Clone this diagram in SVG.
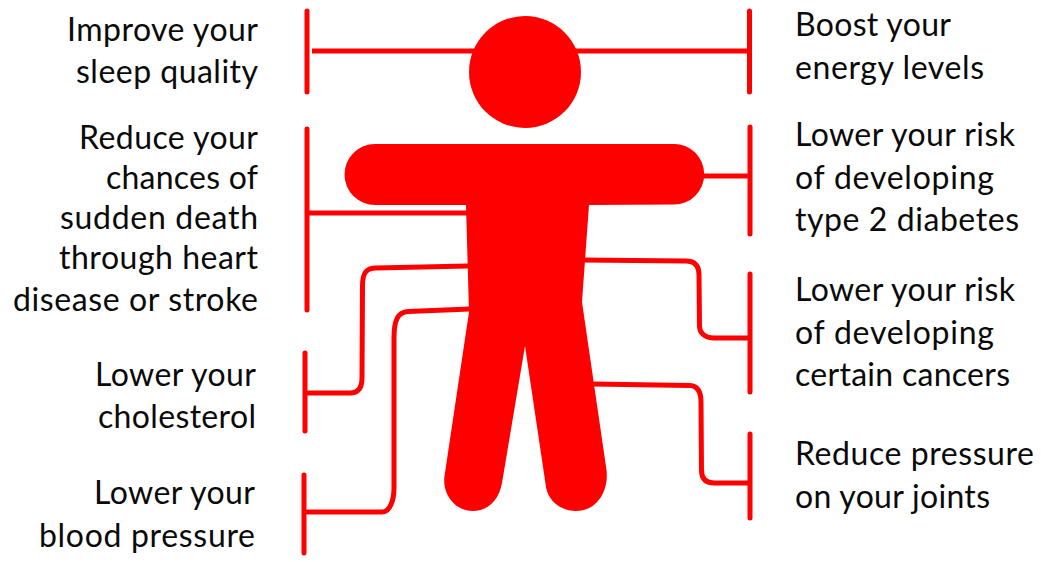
<svg xmlns="http://www.w3.org/2000/svg" width="1041" height="562" viewBox="0 0 1041 562">
<style>
text{font-family:"Lato","Open Sans",sans-serif;font-size:32px;fill:#0a0a0a}
.l{text-anchor:end}
.c{fill:none;stroke:#f00;stroke-width:5px;stroke-linecap:round;stroke-linejoin:round}
.s{fill:none;stroke:#f00;stroke-width:5px;stroke-linecap:butt}
.b{fill:#f00}
</style>
<rect width="1041" height="562" fill="#fff"/>
<g id="connectors">
<path class="c" d="M307 11V92M749.500 11V92"/>
<path class="s" d="M312 51H475M575 51H749"/>
<path class="c" d="M307 129V310"/>
<path class="s" d="M309 213H468"/>
<path class="s" d="M700 176H749"/>
<path class="c" d="M750 127V234"/>
<path class="c" d="M305 353V431M750 274V392M750 434V518M304 475V553"/>
<path class="s" d="M305 393H350C358 393 362 388 362 378L362.500 286C362.500 273 366 268 376 268L468 266"/>
<path class="s" d="M304 512H382C390 512 394 500 394 488L394 338C394 320 398 312 408 311.500L470 309"/>
<path class="s" d="M582 260L686 261C695 261 699 266 699 275L699.500 326C699.500 333 705 338 714 338H749"/>
<path class="s" d="M592 384L690 385.500C698 386 701 392 701 402L701.500 470C701.500 478 705 483 714 483H749"/>
</g>
<g id="figure">
<circle class="b" cx="525" cy="72" r="56"/>
<path class="b" d="M375 144H674A30.250 30.250 0 0 1 674 204.500L589 205L582 302L606.500 470C609 492 596 511 576 511C560 511 548 500 546 487L525 346L502 483C499 500 488 511 473 511C455 511 442 494 444.500 476L469 312L466 205H375A30.500 30.500 0 0 1 375 144Z"/>
</g>
<g id="left-labels">
<text class="l" x="258" y="41" textLength="191">Improve your</text><text class="l" x="258" y="83" textLength="182">sleep quality</text>
<text class="l" x="258" y="149" textLength="179">Reduce your</text><text class="l" x="258" y="189" textLength="152">chances of</text><text class="l" x="258" y="229" textLength="198">sudden death</text><text class="l" x="258" y="269" textLength="199">through heart</text><text class="l" x="258" y="311" textLength="245">disease or stroke</text>
<text class="l" x="256" y="386" textLength="161">Lower your</text><text class="l" x="256" y="428" textLength="158">cholesterol</text>
<text class="l" x="255" y="504" textLength="161">Lower your</text><text class="l" x="255" y="547" textLength="216">blood pressure</text>
</g>
<g id="right-labels">
<text x="795" y="36" textLength="156">Boost your</text><text x="795" y="79" textLength="189">energy levels</text>
<text x="795" y="146" textLength="220">Lower your risk</text><text x="795" y="189" textLength="199">of developing</text><text x="795" y="231" textLength="224">type 2 diabetes</text>
<text x="795" y="301" textLength="220">Lower your risk</text><text x="795" y="344" textLength="199">of developing</text><text x="795" y="386" textLength="215">certain cancers</text>
<text x="795" y="465" textLength="239">Reduce pressure</text><text x="795" y="508" textLength="195">on your joints</text>
</g>
</svg>
